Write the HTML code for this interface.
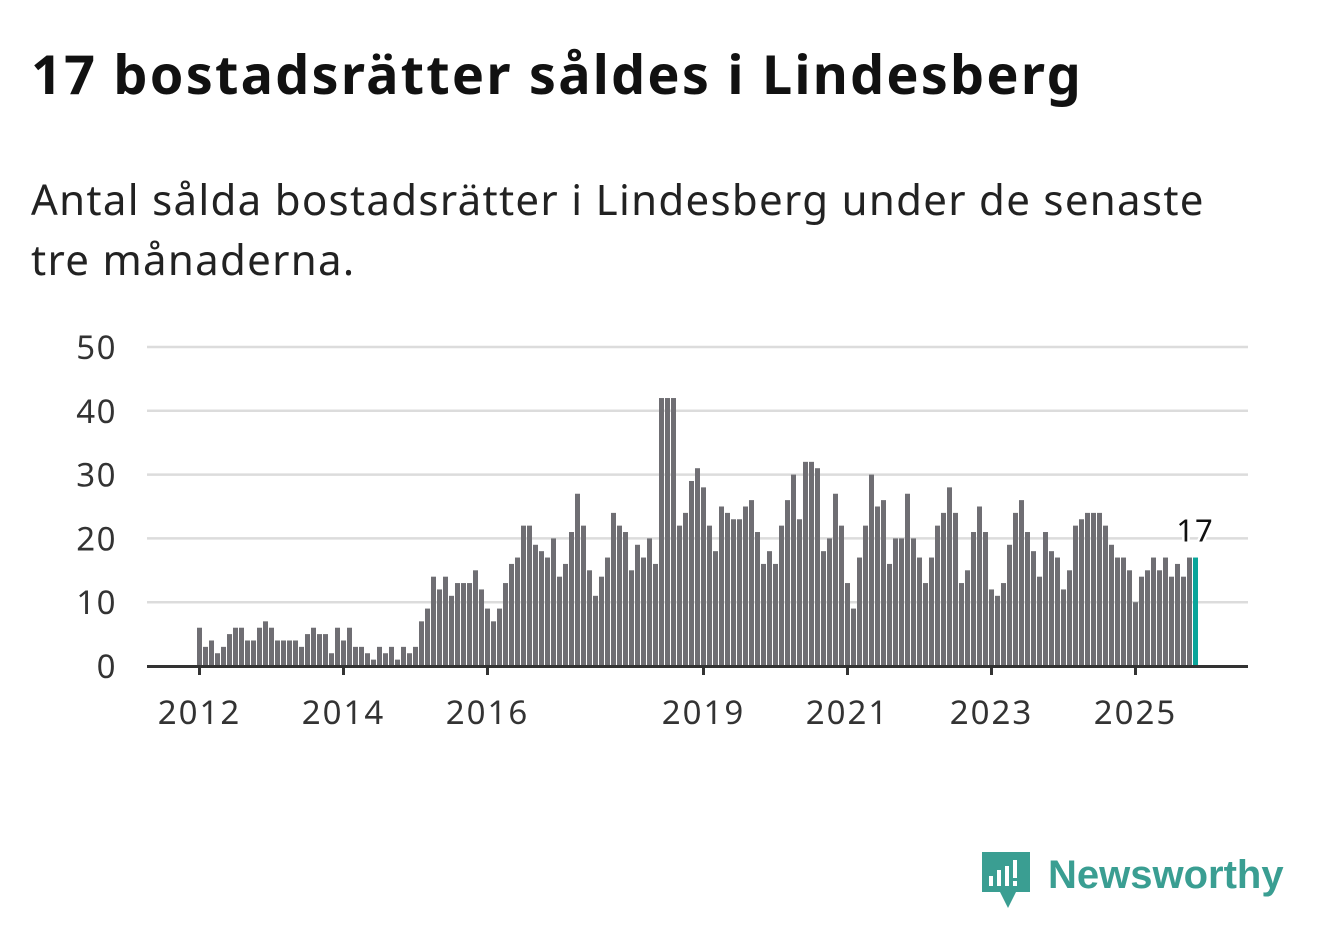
<!DOCTYPE html>
<html><head><meta charset="utf-8"><style>
body{margin:0;background:#fff;width:1322px;height:939px;overflow:hidden;font-family:"Noto Sans","Liberation Sans","DejaVu Sans",sans-serif;}
h1{position:absolute;left:31px;top:36px;margin:0;font-size:54px;font-weight:bold;color:#111;letter-spacing:2.2px;white-space:nowrap}
p{position:absolute;left:31px;top:170px;margin:0;font-size:42px;line-height:60px;color:#222;width:1215px;letter-spacing:1.3px}
svg{position:absolute;left:0;top:0}
</style></head><body>
<h1>17 bostadsrätter såldes i Lindesberg</h1>
<p>Antal sålda bostadsrätter i Lindesberg under de senaste tre månaderna.</p>
<svg id="chart" width="1322" height="939"></svg>
<script>
const values = [
6,3,4,2,3,5,6,6,4,4,6,7,
6,4,4,4,4,3,5,6,5,5,2,6,
4,6,3,3,2,1,3,2,3,1,3,2,
3,7,9,14,12,14,11,13,13,13,15,12,
9,7,9,13,16,17,22,22,19,18,17,20,
14,16,21,27,22,15,11,14,17,24,22,21,
15,19,17,20,16,42,42,42,22,24,29,31,
28,22,18,25,24,23,23,25,26,21,16,18,
16,22,26,30,23,32,32,31,18,20,27,22,
13,9,17,22,30,25,26,16,20,20,27,20,
17,13,17,22,24,28,24,13,15,21,25,21,
12,11,13,19,24,26,21,18,14,21,18,17,
12,15,22,23,24,24,24,22,19,17,17,15,
10,14,15,17,15,17,14,16,14,17,17];
const yTicks = [0,10,20,30,40,50];
const xTickLabels = ["2012","2014","2016","2019","2021","2023","2025"];
const xTickIndex = [0,24,48,84,108,132,156];

const svg = document.getElementById('chart');
const NS = 'http://www.w3.org/2000/svg';
const y0 = 666, pxPer = 6.38, x0 = 197, step = 6;
const yScale = v => y0 - v * pxPer;
const xScale = i => x0 + i * step;
function mk(tag, attrs){const e=document.createElementNS(NS,tag);for(const k in attrs)e.setAttribute(k,attrs[k]);svg.appendChild(e);return e;}

yTicks.forEach(t=>{
  if(t>0){const g=mk('line',{x1:147,x2:1248,y1:yScale(t),y2:yScale(t),stroke:'#dcdcdc','stroke-width':2.5});
  
  }
  const l=mk('text',{x:117,y:yScale(t)+12,'text-anchor':'end','font-size':33,'letter-spacing':1.5,fill:'#333'});
  l.textContent=t;
  
  
});
values.forEach((v,i)=>{
  const last=i===values.length-1;
  const r=mk('rect',{x:xScale(i),y:yScale(v),width:5,height:v*pxPer,fill:last?'#0aa59a':'#6f6e73'});
  
  
});
const ax=mk('line',{x1:147,x2:1248,y1:y0+0.5,y2:y0+0.5,stroke:'#333','stroke-width':3});


xTickIndex.forEach((idx,k)=>{
  const x=xScale(idx)+2.5;
  const t=mk('line',{x1:x,x2:x,y1:y0,y2:y0+9,stroke:'#333','stroke-width':3});
  
  
  const l=mk('text',{x:x,y:724,'text-anchor':'middle','font-size':33,'letter-spacing':2,fill:'#333'});
  l.textContent=xTickLabels[k];
  
  
});
const lv=values[values.length-1];
const lab=mk('text',{x:xScale(values.length-1)+2,y:yScale(lv)-16,'text-anchor':'middle','font-size':31,'letter-spacing':1,fill:'#111',stroke:'#fff','stroke-width':5,'paint-order':'stroke'});
lab.textContent=lv;


</script>
<svg width="1322" height="939" style="pointer-events:none">
  <path d="M982 852 h48 v40 h-14 l-8 16 l-8 -16 h-18 z" fill="#3a9e92"/>
  <rect x="989" y="876" width="4" height="10" fill="#fff"/>
  <rect x="997" y="870" width="4" height="16" fill="#fff"/>
  <rect x="1005" y="866" width="4" height="20" fill="#fff"/>
  <rect x="1013" y="860" width="4" height="18" fill="#fff"/>
  <rect x="1013" y="881" width="4" height="5" fill="#fff"/>
  <text x="1048" y="888" font-size="40" font-weight="bold" fill="#3a9e92" font-family="Liberation Sans, sans-serif">Newsworthy</text>
</svg>
</body></html>
